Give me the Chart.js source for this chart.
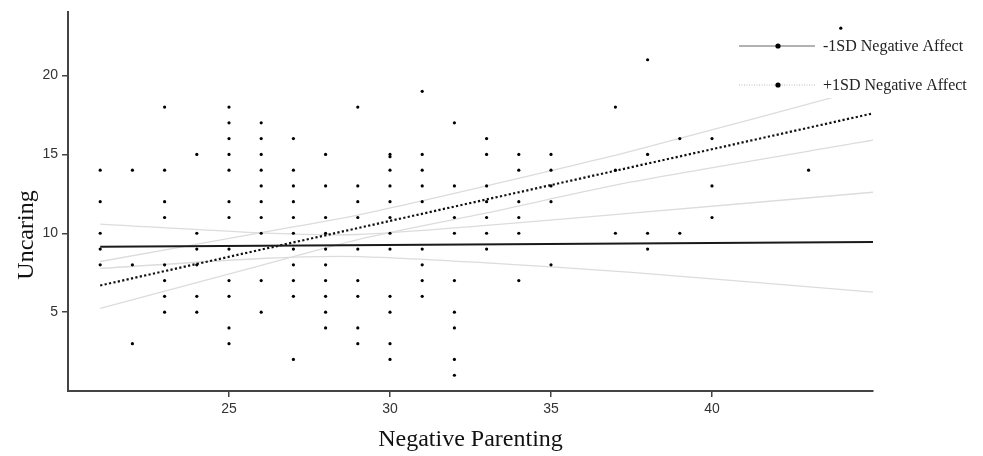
<!DOCTYPE html>
<html>
<head>
<meta charset="utf-8">
<script src="https://cdn.jsdelivr.net/npm/chart.js@4"></script>
<style>
  html, body { margin: 0; padding: 0; background: #fff; }
  #wrap { width: 983px; height: 456px; position: relative; }
</style>
</head>
<body>
<div id="wrap"><canvas id="chart"></canvas></div>
<script>
// scatter: negative parenting score and the uncaring scores seen at that score
const negParenting = [21, 22, 23, 24, 25, 26, 27, 28, 29, 30, 31, 32, 33, 34, 35, 37, 38, 39, 40, 43, 44];
const uncaringAt = [
  [14, 12, 10, 9, 8],
  [14, 8, 3],
  [18, 14, 12, 11, 8, 7, 6, 5],
  [15, 10, 9, 8, 6, 5],
  [18, 17, 16, 15, 14, 12, 11, 9, 7, 6, 4, 3],
  [17, 16, 15, 14, 13, 12, 11, 10, 7, 5],
  [16, 14, 13, 12, 11, 10, 9, 8, 7, 6, 2],
  [15, 13, 11, 10, 9, 8, 7, 6, 5, 4],
  [18, 13, 12, 11, 9, 7, 6, 4, 3],
  [15, 14.85, 14, 13, 12, 11, 10, 9, 6, 5, 3, 2],
  [19, 15, 14, 13, 12, 9, 8, 7, 6],
  [17, 13, 11, 10, 7, 5, 4, 2, 1],
  [16, 15, 13, 12, 11, 10, 9],
  [15, 14, 12, 11, 10, 7],
  [15, 14, 13, 12, 8],
  [18, 14, 10],
  [21, 15, 10, 9],
  [16, 10],
  [16, 13, 11],
  [14],
  [23]
];

// simple slopes (ends of the fitted lines)
const slopeX = [21, 45];
const lowAffectY = [9.15, 9.45];
const highAffectY = [6.69, 17.6];

// confidence bands
const bandX = [21, 26, 29, 33, 37.5, 45];
const lowUpper = [10.58, 10.02, 9.92, 10.5, 11.27, 12.6];
const lowLower = [7.77, 8.4, 8.52, 8.12, 7.52, 6.27];
const highUpper = [8.21, 10.04, 11.15, 13.0, 15.2, 19.3];
const highLower = [5.23, 7.96, 9.6, 11.29, 13.25, 15.9];

const xTicks = [25, 30, 35, 40];
const yTicks = [5, 10, 15, 20];
const legendLabels = ['-1SD Negative Affect', '+1SD Negative Affect'];

const points = [];
negParenting.forEach((x, i) => {
  uncaringAt[i].forEach(y => points.push({ x: x, y: y }));
});

const pairs = (xs, ys) => xs.map((x, i) => ({ x: x, y: ys[i] }));

const bandStyle = {
  type: 'line', borderColor: '#dcdcdc', borderWidth: 1.3,
  pointRadius: 0, tension: 0.25, fill: false
};

// legend drawn by hand, with a white box under it like the original
const legendAndTitle = {
  id: 'legendAndTitle',
  afterDraw(chart) {
    const ctx = chart.ctx;
    ctx.save();
    ctx.fillStyle = '#fff';
    ctx.fillRect(733, 30, 247, 68);

    // row 1: solid grey line
    ctx.strokeStyle = '#999';
    ctx.lineWidth = 1.5;
    ctx.beginPath(); ctx.moveTo(739, 46); ctx.lineTo(815, 46); ctx.stroke();
    // row 2: faint dotted line
    ctx.strokeStyle = '#bbb';
    ctx.lineWidth = 1;
    ctx.setLineDash([1, 1.5]);
    ctx.beginPath(); ctx.moveTo(739, 85); ctx.lineTo(815, 85); ctx.stroke();
    ctx.setLineDash([]);

    ctx.fillStyle = '#000';
    [46, 85].forEach(y => {
      ctx.beginPath(); ctx.arc(778, y, 2.6, 0, Math.PI * 2); ctx.fill();
    });

    ctx.fillStyle = '#222';
    ctx.font = '16px "Liberation Serif", "DejaVu Serif", serif';
    ctx.textBaseline = 'middle';
    ctx.textAlign = 'left';
    ctx.fillText(legendLabels[0], 823, 47);
    ctx.fillText(legendLabels[1], 823, 86);

    // y axis title sits a bit below the middle of the axis in the original
    ctx.translate(27, 235);
    ctx.rotate(-Math.PI / 2);
    ctx.textAlign = 'center';
    ctx.font = '24px "Liberation Serif", "DejaVu Serif", serif';
    ctx.fillStyle = '#111';
    ctx.fillText('Uncaring', 0, 0);
    ctx.restore();
  }
};

const axisColor = '#444';

new Chart(document.getElementById('chart').getContext('2d'), {
  type: 'scatter',
  data: {
    datasets: [
      {
        label: 'points',
        data: points,
        backgroundColor: '#000',
        borderWidth: 0,
        pointRadius: 1.6
      },
      {
        type: 'line', label: legendLabels[0],
        data: pairs(slopeX, lowAffectY),
        borderColor: '#1a1a1a', borderWidth: 2, pointRadius: 0
      },
      {
        type: 'line', label: legendLabels[1],
        data: pairs(slopeX, highAffectY),
        borderColor: '#111', borderWidth: 2.2, borderDash: [2.2, 2.3], pointRadius: 0
      },
      Object.assign({ label: 'low upper', data: pairs(bandX, lowUpper) }, bandStyle),
      Object.assign({ label: 'low lower', data: pairs(bandX, lowLower) }, bandStyle),
      Object.assign({ label: 'high upper', data: pairs(bandX, highUpper) }, bandStyle),
      Object.assign({ label: 'high lower', data: pairs(bandX, highLower) }, bandStyle)
    ]
  },
  options: {
    responsive: true,
    maintainAspectRatio: false,
    animation: false,
    layout: { padding: { left: 0, right: 110, top: 7, bottom: 0 } },
    plugins: {
      legend: { display: false },
      tooltip: { enabled: false }
    },
    scales: {
      x: {
        type: 'linear',
        min: 20, max: 45,
        afterFit: s => { s.height = 65; },
        afterBuildTicks: s => { s.ticks = xTicks.map(v => ({ value: v })); },
        grid: { drawOnChartArea: false, drawTicks: true, tickLength: 6, color: axisColor, lineWidth: 1.5 },
        border: { display: true, color: axisColor, width: 2 },
        ticks: {
          color: '#333', padding: 4,
          font: { family: '"Liberation Sans Narrow", "Liberation Sans", sans-serif', size: 14 }
        },
        title: {
          display: true, text: 'Negative Parenting', color: '#111',
          padding: { top: 0, bottom: 2 },
          font: { family: '"Liberation Serif", "DejaVu Serif", serif', size: 24 }
        }
      },
      y: {
        type: 'linear',
        min: 0, max: 24,
        afterFit: s => { s.width = 68; },
        afterBuildTicks: s => { s.ticks = yTicks.map(v => ({ value: v })); },
        grid: { drawOnChartArea: false, drawTicks: true, tickLength: 6, color: axisColor, lineWidth: 1.5 },
        border: { display: true, color: axisColor, width: 2 },
        ticks: {
          color: '#333', padding: 4,
          font: { family: '"Liberation Sans Narrow", "Liberation Sans", sans-serif', size: 14 }
        }
      }
    }
  },
  plugins: [legendAndTitle]
});
</script>
</body>
</html>
